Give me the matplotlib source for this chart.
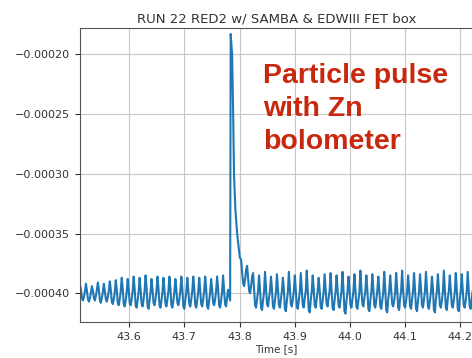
import numpy as np
import matplotlib
matplotlib.use("Agg")
import matplotlib.pyplot as plt
from matplotlib.ticker import FuncFormatter, MultipleLocator

# ---- data (signal values in units of 1e-6) ----
title = "RUN 22 RED2 w/ SAMBA & EDWIII FET box"
xlabel = "Time [s]"
annotation = "Particle pulse\nwith Zn\nbolometer"

sample_dt = 0.0018
pre_start = 43.511
pre_values = [
    -393, -397, -404, -406, -403, -398,
    -392, -398, -405, -407, -404, -399,
    -394, -398, -404, -406, -402, -397,
    -391, -397, -406, -408, -404, -399,
    -392, -398, -405, -407, -403, -398,
    -390, -397, -407, -409, -405, -399,
    -389, -397, -408, -410, -405, -398,
    -387, -396, -409, -411, -406, -399,
    -388, -397, -408, -410, -405, -398,
    -386, -396, -410, -412, -406, -399,
    -387, -397, -409, -411, -405, -398,
    -385, -395, -411, -413, -406, -399,
    -388, -397, -408, -410, -405, -398,
    -386, -396, -410, -412, -406, -399,
    -387, -397, -409, -411, -405, -398,
    -386, -396, -410, -412, -406, -399,
    -388, -397, -408, -410, -405, -398,
    -386, -396, -411, -413, -406, -399,
    -387, -397, -409, -411, -405, -398,
    -386, -396, -410, -412, -406, -399,
    -387, -397, -409, -411, -405, -398,
    -386, -396, -411, -413, -406, -399,
    -388, -397, -408, -410, -405, -398,
    -386, -396, -410, -412, -406, -399,
    -385, -397, -409, -411, -404, -397,
]

pulse_times = [43.7830, 43.7840, 43.7866, 43.7885, 43.7900, 43.7925,
               43.7957, 43.7985, 43.8005]
pulse_values = [-406, -183, -200, -250, -300, -330, -350, -362, -370]

post_start = 43.8030
post_values = [
    -372, -383, -392, -394, -388, -380,
    -377, -388, -398, -400, -394, -386,
    -383, -396, -410, -412, -405, -398,
    -385, -397, -412, -414, -406, -399,
    -382, -396, -409, -411, -404, -398,
    -386, -397, -411, -413, -406, -399,
    -384, -396, -410, -412, -405, -398,
    -387, -397, -413, -415, -406, -399,
    -382, -396, -409, -411, -405, -398,
    -385, -397, -411, -413, -406, -399,
    -383, -396, -410, -412, -404, -398,
    -381, -397, -414, -416, -406, -399,
    -385, -396, -410, -412, -405, -398,
    -387, -397, -411, -413, -406, -399,
    -384, -396, -409, -411, -404, -398,
    -383, -397, -412, -414, -406, -399,
    -385, -396, -410, -412, -405, -398,
    -382, -397, -415, -417, -406, -399,
    -386, -396, -410, -412, -405, -398,
    -384, -397, -411, -413, -406, -399,
    -381, -396, -409, -411, -404, -398,
    -385, -397, -413, -415, -406, -399,
    -384, -396, -410, -412, -405, -398,
    -386, -397, -411, -413, -406, -399,
    -382, -396, -414, -416, -405, -398,
    -385, -397, -409, -411, -406, -399,
    -383, -396, -412, -414, -404, -398,
    -381, -397, -410, -412, -406, -399,
    -385, -396, -411, -413, -405, -398,
    -383, -397, -413, -415, -406, -399,
    -384, -396, -410, -412, -405, -398,
    -382, -397, -411, -413, -406, -399,
    -386, -396, -414, -416, -405, -398,
    -384, -397, -410, -412, -406, -399,
    -381, -396, -412, -414, -404, -398,
    -385, -397, -410, -412, -406, -399,
    -383, -396, -413, -415, -405, -398,
    -384, -397, -410, -412, -406, -399,
    -382, -396, -411, -413, -405, -398,
]

unit = 1e-6

t_pre = pre_start + sample_dt * np.arange(len(pre_values))
t_post = post_start + sample_dt * np.arange(len(post_values))
t = np.concatenate([t_pre, np.array(pulse_times), t_post])
y = np.concatenate([np.array(pre_values), np.array(pulse_values),
                    np.array(post_values)]) * unit

# ---- figure ----
fig = plt.figure(figsize=(4.72, 3.58), dpi=100)
ax = fig.add_axes([80 / 472, 36 / 358, 393 / 472, 294 / 358])
ax.plot(t, y, color="#1f77b4", linewidth=1.5)

ax.set_xlim(43.511, 44.223)
ax.set_ylim(-0.000424, -0.000178)
ax.xaxis.set_major_locator(MultipleLocator(0.1))
ax.yaxis.set_major_locator(MultipleLocator(0.00005))
ax.xaxis.set_major_formatter(FuncFormatter(lambda v, p: f"{v:.1f}"))
ax.yaxis.set_major_formatter(
    FuncFormatter(lambda v, p: f"{v:.5f}".replace("-", "\u2212")))
ax.grid(True, color="#c8c8c8", linewidth=0.8)
ax.tick_params(labelsize=8, colors="#333333", length=3.5)
for s in ax.spines.values():
    s.set_color("#555555")

ax.set_title(title, fontsize=9.5, color="#333333", pad=4)
ax.set_xlabel(xlabel, fontsize=7.5, color="#333333", labelpad=2)

fig.text(263 / 472, 1 - 63 / 358, annotation, color="#c8290e",
         fontsize=20.5, fontweight="bold", family="Liberation Sans",
         va="top", ha="left", linespacing=1.36)

fig.savefig("out.png", dpi=100)
